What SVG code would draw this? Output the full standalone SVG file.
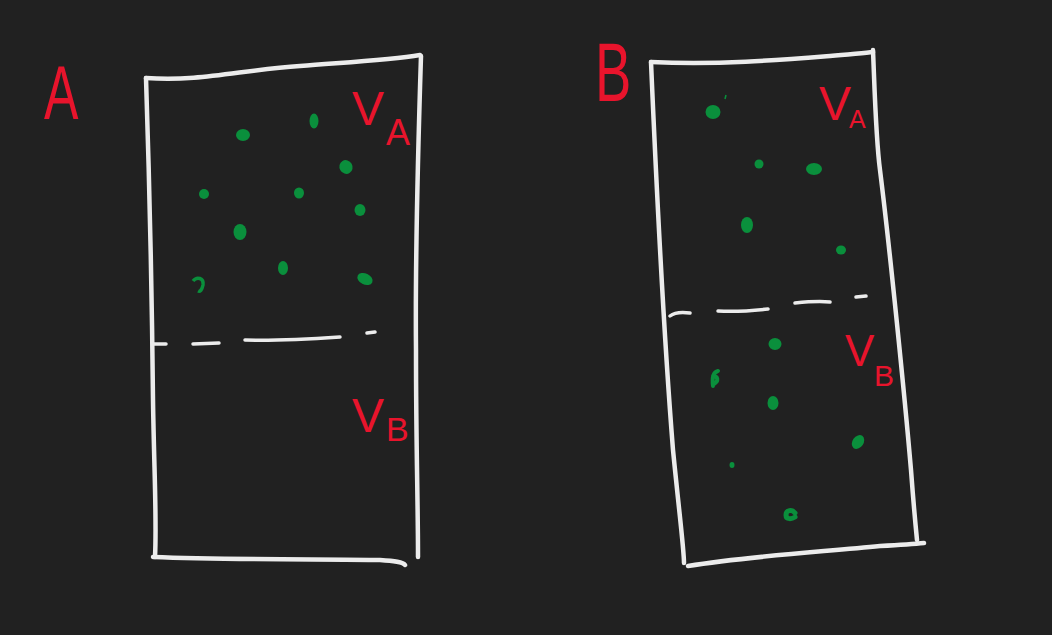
<svg xmlns="http://www.w3.org/2000/svg" width="1052" height="635" viewBox="0 0 1052 635">
<style>
.frame{fill:none;stroke:#ececec;stroke-width:4.5;stroke-linecap:round;stroke-linejoin:round}
.dash{fill:none;stroke:#ececec;stroke-width:3.5;stroke-linecap:round}
.dot{fill:#0a8f3c}
.lbl{fill:#e8142c;font-family:"Liberation Sans",Arial,sans-serif}
</style>
<rect width="1052" height="635" fill="#212121"/>
<g id="container-A">
<path class="frame" d="M146,78 C200,82 240,70 300,66 C350,62 390,60 420,55"/>
<path class="frame" d="M146,78 C150,200 152,300 153,400 C154,470 157,520 155,557"/>
<path class="frame" d="M153,557 C230,560 330,559 380,560 C395,561 403,562 405,565"/>
<path class="frame" d="M421,56 C418,150 415,250 416,350 C416,450 418,500 418,557"/>
<path class="dash" d="M154,344 L166,344 M193,344 L219,343 M245,340 C280,341 310,339 340,337 M367,333 L375,332"/>
<g class="dot">
<ellipse cx="243" cy="135" rx="7" ry="6"/>
<ellipse cx="314" cy="121" rx="4.5" ry="7.5"/>
<ellipse cx="346" cy="167" rx="6.5" ry="7" transform="rotate(-30 346 167)"/>
<ellipse cx="204" cy="194" rx="5" ry="5"/>
<ellipse cx="299" cy="193" rx="5" ry="5.5"/>
<ellipse cx="360" cy="210" rx="5.5" ry="6"/>
<ellipse cx="240" cy="232" rx="6.5" ry="8"/>
<ellipse cx="283" cy="268" rx="5" ry="7"/>
<path d="M193,281 C197,276 204,278 203,285 C202,290 200,292 198,291" fill="none" stroke="#0a8f3c" stroke-width="3.5"/>
<ellipse cx="365" cy="279" rx="8" ry="5.5" transform="rotate(25 365 279)"/>
</g>
<text class="lbl" x="352" y="125" font-size="48">V</text>
<text class="lbl" x="386" y="145" font-size="36">A</text>
<text class="lbl" x="352" y="432" font-size="48">V</text>
<text class="lbl" x="386" y="441" font-size="34">B</text>
</g>
<g id="label-A"><text class="lbl" x="44" y="119" font-size="76" transform="translate(44 119) scale(0.68 1) translate(-44 -119)">A</text></g>
<g id="container-B">
<path class="frame" d="M651,62 C720,65 780,60 830,56 C850,54 865,53 873,52"/>
<path class="frame" d="M651,62 C657,200 665,350 673,450 C680,520 684,550 684,563"/>
<path class="frame" d="M873,50 C875,100 876,140 880,170 C890,250 905,400 911,470 C914,510 916,530 917,540"/>
<path class="frame" d="M688,566 C750,556 820,552 880,546 C900,545 915,544 924,543"/>
<path class="dash" d="M670,316 C675,312 683,312 690,313 M718,311 C735,312 750,311 768,309 M795,303 C805,302 820,301 830,302 M856,297 L866,296"/>
<g class="dot">
<ellipse cx="713" cy="112" rx="7.5" ry="7"/>
<path d="M725,99 L726,95" stroke="#0a8f3c" stroke-width="1.5"/>
<ellipse cx="759" cy="164" rx="4.5" ry="4.5"/>
<ellipse cx="814" cy="169" rx="8" ry="6"/>
<ellipse cx="747" cy="225" rx="6" ry="8"/>
<ellipse cx="841" cy="250" rx="5" ry="4.5"/>
<ellipse cx="775" cy="344" rx="6.5" ry="6"/>
<path d="M718,371 C713,372 712,378 713,386 M713,376 C718,376 719,381 714,384" fill="none" stroke="#0a8f3c" stroke-width="4" stroke-linecap="round"/>
<ellipse cx="773" cy="403" rx="5.5" ry="7"/>
<ellipse cx="858" cy="442" rx="5.5" ry="7.5" transform="rotate(35 858 442)"/>
<ellipse cx="732" cy="465" rx="2.5" ry="3"/>
<path d="M795,513 C792,509 786,510 786,515 C786,520 792,519 795,517" fill="none" stroke="#0a8f3c" stroke-width="5" stroke-linecap="round"/>
</g>
<text class="lbl" x="819" y="120" font-size="48">V</text>
<text class="lbl" x="849" y="128" font-size="25">A</text>
<text class="lbl" x="845" y="366" font-size="44">V</text>
<text class="lbl" x="874" y="386" font-size="30">B</text>
</g>
<g id="label-B"><text class="lbl" x="595" y="101" font-size="64" transform="translate(595 101) scale(0.85 1.3) translate(-595 -101)">B</text></g>
</svg>
